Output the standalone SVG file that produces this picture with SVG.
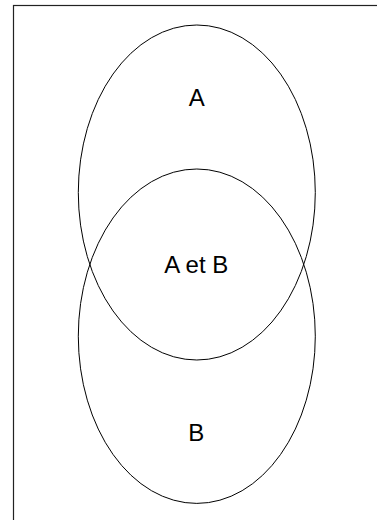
<svg xmlns="http://www.w3.org/2000/svg" width="377" height="520" viewBox="0 0 377 520">
  <style>
    .frame { fill: none; stroke: #222; stroke-width: 1.2; }
    .set { fill: none; stroke: #000; stroke-width: 1; }
    .label { font-family: "Liberation Sans", Arial, sans-serif; font-size: 24px; fill: #000; text-anchor: middle; }
  </style>
  <rect width="377" height="520" fill="#fff"/>
  <!-- outer frame, running past the right and bottom edges -->
  <rect class="frame" x="13.5" y="5.5" width="400" height="540"/>
  <g id="set-a">
    <ellipse class="set" cx="196.8" cy="192.5" rx="118.5" ry="167.5"/>
    <text class="label" x="196.8" y="105.7">A</text>
  </g>
  <g id="set-b">
    <ellipse class="set" cx="196.8" cy="336.2" rx="118.5" ry="167.2"/>
    <text class="label" x="196.3" y="440.7">B</text>
  </g>
  <g id="intersection">
    <text class="label" x="196.3" y="273.3">A et B</text>
  </g>
  <g id="connectors"/>
</svg>
